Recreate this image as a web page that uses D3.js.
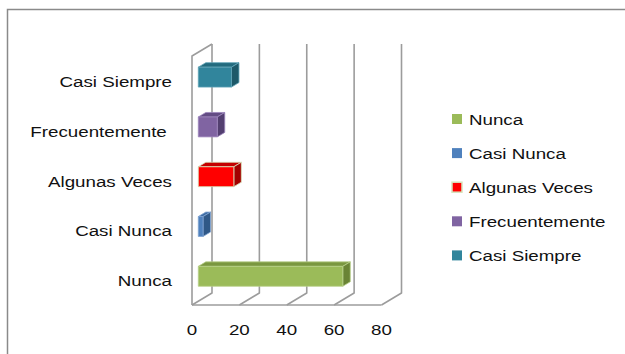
<!DOCTYPE html>
<html>
<head>
<meta charset="utf-8">
<script src="https://cdn.jsdelivr.net/npm/d3@7/dist/d3.min.js"></script>
<style>
  html, body { margin: 0; padding: 0; background: #fff; }
  svg { display: block; }
  text { font-family: "Liberation Sans", Arial, sans-serif; fill: #111; }
</style>
</head>
<body>
<svg id="chart" width="625" height="354"></svg>
<script>
// Survey answers (percent of respondents)
const categories = ["Nunca", "Casi Nunca", "Algunas Veces", "Frecuentemente", "Casi Siempre"];
const values = [61, 2, 15, 8, 14];
const axisTicks = [0, 20, 40, 60, 80];
const axisLabels = ["0", "20", "40", "60", "80"];
const categoryLabels = ["Nunca", "Casi Nunca", "Algunas Veces", "Frecuentemente ", "Casi Siempre"];
const legendLabels = ["Nunca", "Casi Nunca", "Algunas Veces", "Frecuentemente", "Casi Siempre"];
const frontColors = ["#9BBB59", "#4F81BD", "#FF0000", "#8064A2", "#31859C"];
const topColors = ["#7A9740", "#3D6BA3", "#C40000", "#634C84", "#236B7E"];
const sideColors = ["#6A8435", "#2F5887", "#A30000", "#533F70", "#1D5969"];
const edgeColors = ["#B9D08A", "#7FA3D2", "#D7E4BD", "#9D86BC", "#5FA3B6"];

const svg = d3.select("#chart");
const textStretch = 1.21;   // wide lettering of the original layout
const fontSize = 15.5;

// Front plane of the 3-D plot box and the depth offset of its back wall
const plot = { left: 192, right: 381.5, top: 56, bottom: 305 };
const DX = 20, DY = -12;
const barDepth = [0.315, 0.69];

const x = d3.scaleLinear().domain([0, 80]).range([plot.left, plot.right]);
const y = d3.scaleBand().domain(categories.slice().reverse())
  .range([plot.top, plot.bottom]).paddingInner(0.6).paddingOuter(0.3);

const P = (px, py, d) => [px + d * DX, py + d * DY];
const poly = pts => pts.map(p => p.join(",")).join(" ");

// Outer chart frame
svg.append("rect").attr("x", 7.5).attr("y", 9.5).attr("width", 700).attr("height", 400)
  .attr("fill", "none").attr("stroke", "#8a8a8a").attr("stroke-width", 1.5);

const grid = svg.append("g").attr("stroke", "#9c9c9c").attr("stroke-width", 1.6)
  .attr("fill", "none").attr("stroke-linejoin", "round");

// Back-wall gridlines and floor diagonals
axisTicks.forEach(t => {
  const a = P(x(t), plot.top, 1), b = P(x(t), plot.bottom, 1), c = P(x(t), plot.bottom, 0);
  grid.append("polyline").attr("points", poly([a, b, c]));
});
// Front floor edge
grid.append("line").attr("x1", x(0)).attr("x2", x(80)).attr("y1", plot.bottom).attr("y2", plot.bottom);
// Left wall edges
grid.append("polyline").attr("points",
  poly([P(x(0), plot.bottom, 0), P(x(0), plot.top, 0), P(x(0), plot.top, 1)]));

// 3-D bars
const bars = svg.append("g");
categories.forEach((cat, i) => {
  const v = values[i];
  const y0 = y(cat), y1 = y(cat) + y.bandwidth();
  const x0 = x(0), x1 = x(v);
  const [d0, d1] = barDepth;
  const g = bars.append("g").attr("stroke", edgeColors[i]).attr("stroke-width", 0.8)
    .attr("stroke-linejoin", "round");
  g.append("polygon").attr("fill", topColors[i])
    .attr("points", poly([P(x0, y0, d0), P(x1, y0, d0), P(x1, y0, d1), P(x0, y0, d1)]));
  g.append("polygon").attr("fill", sideColors[i])
    .attr("points", poly([P(x1, y0, d0), P(x1, y1, d0), P(x1, y1, d1), P(x1, y0, d1)]));
  g.append("polygon").attr("fill", frontColors[i])
    .attr("points", poly([P(x0, y0, d0), P(x1, y0, d0), P(x1, y1, d0), P(x0, y1, d0)]));
});

// Category labels
svg.append("g").selectAll("text").data(categories).join("text")
  .attr("transform", d => `translate(172,${y(d) + y.bandwidth() / 2 + 6}) scale(${textStretch},1)`)
  .attr("text-anchor", "end").style("white-space", "pre").attr("font-size", fontSize)
  .text((d, i) => categoryLabels[i]);

// Value axis labels
svg.append("g").selectAll("text").data(axisTicks).join("text")
  .attr("transform", d => `translate(${x(d)},335) scale(${textStretch},1)`)
  .attr("text-anchor", "middle").attr("font-size", fontSize)
  .text((d, i) => axisLabels[i]);

// Legend
const legend = svg.append("g").attr("transform", "translate(452,119)");
const item = legend.selectAll("g").data(legendLabels).join("g")
  .attr("transform", (d, i) => `translate(0,${i * 34.1})`);
item.append("rect").attr("x", 0).attr("y", -5).attr("width", 10).attr("height", 10)
  .attr("fill", (d, i) => frontColors[i])
  .attr("stroke", (d, i) => i === 2 ? edgeColors[i] : "none").attr("stroke-width", 1.5);
item.append("text")
  .attr("transform", `translate(17,5.5) scale(${textStretch},1)`)
  .attr("font-size", fontSize).text(d => d);
</script>
</body>
</html>
